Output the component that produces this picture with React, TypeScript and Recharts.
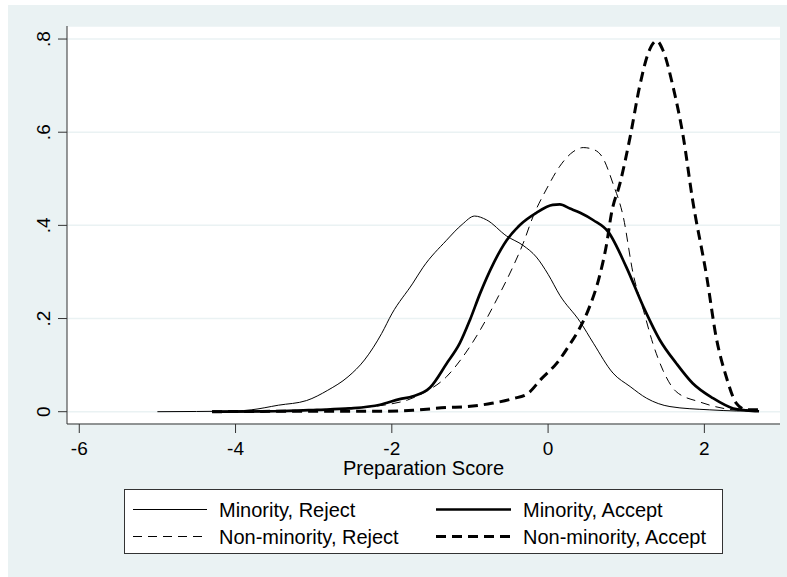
import React from 'react';
import { LineChart, Line, XAxis, YAxis, CartesianGrid, Legend } from 'recharts';

type P = { x: number; y: number };

const minorityReject: P[] = [
  { x: -5.0, y: 0 }, { x: -4.5, y: 0.0005 }, { x: -4.0, y: 0.0015 }, { x: -3.8, y: 0.004 },
  { x: -3.45, y: 0.014 }, { x: -3.09, y: 0.024 }, { x: -2.82, y: 0.046 }, { x: -2.56, y: 0.075 },
  { x: -2.35, y: 0.111 }, { x: -2.13, y: 0.168 }, { x: -2.0, y: 0.21 }, { x: -1.73, y: 0.276 },
  { x: -1.6, y: 0.31 }, { x: -1.3, y: 0.368 }, { x: -1.1, y: 0.402 }, { x: -0.94, y: 0.42 },
  { x: -0.79, y: 0.412 }, { x: -0.53, y: 0.377 }, { x: -0.32, y: 0.357 }, { x: -0.15, y: 0.332 },
  { x: 0.0, y: 0.295 }, { x: 0.15, y: 0.25 }, { x: 0.41, y: 0.193 }, { x: 0.58, y: 0.147 },
  { x: 0.83, y: 0.083 }, { x: 1.05, y: 0.054 }, { x: 1.26, y: 0.029 }, { x: 1.56, y: 0.011 },
  { x: 2.07, y: 0.004 }, { x: 2.41, y: 0.0015 }, { x: 2.6, y: 0.001 },
];

const minorityAccept: P[] = [
  { x: -4.3, y: 0 }, { x: -3.5, y: 0.001 }, { x: -2.96, y: 0.004 }, { x: -2.54, y: 0.007 },
  { x: -2.15, y: 0.015 }, { x: -1.9, y: 0.027 }, { x: -1.73, y: 0.033 }, { x: -1.51, y: 0.052 },
  { x: -1.3, y: 0.103 }, { x: -1.13, y: 0.147 }, { x: -1.0, y: 0.197 }, { x: -0.87, y: 0.254 },
  { x: -0.7, y: 0.318 }, { x: -0.53, y: 0.368 }, { x: -0.36, y: 0.401 }, { x: -0.15, y: 0.427 },
  { x: 0.06, y: 0.444 }, { x: 0.15, y: 0.445 }, { x: 0.28, y: 0.436 }, { x: 0.41, y: 0.427 },
  { x: 0.58, y: 0.411 }, { x: 0.77, y: 0.386 }, { x: 1.0, y: 0.311 }, { x: 1.22, y: 0.225 },
  { x: 1.43, y: 0.154 }, { x: 1.64, y: 0.104 }, { x: 1.85, y: 0.061 }, { x: 2.11, y: 0.029 },
  { x: 2.37, y: 0.007 }, { x: 2.54, y: 0.003 }, { x: 2.7, y: 0.001 },
];

const nonMinorityReject: P[] = [
  { x: -4.3, y: 0 }, { x: -3.5, y: 0.002 }, { x: -3.0, y: 0.004 }, { x: -2.5, y: 0.008 },
  { x: -2.0, y: 0.017 }, { x: -1.8, y: 0.025 }, { x: -1.6, y: 0.04 }, { x: -1.3, y: 0.075 },
  { x: -1.09, y: 0.118 }, { x: -0.87, y: 0.175 }, { x: -0.66, y: 0.24 }, { x: -0.45, y: 0.311 },
  { x: -0.32, y: 0.361 }, { x: -0.19, y: 0.42 }, { x: -0.02, y: 0.478 }, { x: 0.15, y: 0.527 },
  { x: 0.32, y: 0.558 }, { x: 0.45, y: 0.567 }, { x: 0.58, y: 0.563 }, { x: 0.7, y: 0.545 },
  { x: 0.83, y: 0.49 }, { x: 0.96, y: 0.42 }, { x: 1.09, y: 0.295 }, { x: 1.22, y: 0.218 },
  { x: 1.34, y: 0.147 }, { x: 1.47, y: 0.089 }, { x: 1.64, y: 0.043 }, { x: 1.94, y: 0.021 },
  { x: 2.28, y: 0.006 }, { x: 2.54, y: 0.002 }, { x: 2.7, y: 0.001 },
];

const nonMinorityAccept: P[] = [
  { x: -4.3, y: 0 }, { x: -3.0, y: 0.001 }, { x: -2.15, y: 0.001 }, { x: -1.73, y: 0.003 },
  { x: -1.3, y: 0.009 }, { x: -1.04, y: 0.011 }, { x: -0.72, y: 0.018 }, { x: -0.45, y: 0.028 },
  { x: -0.26, y: 0.039 }, { x: -0.09, y: 0.07 }, { x: 0.12, y: 0.106 }, { x: 0.28, y: 0.145 },
  { x: 0.4, y: 0.178 }, { x: 0.53, y: 0.225 }, { x: 0.66, y: 0.292 }, { x: 0.75, y: 0.361 },
  { x: 0.81, y: 0.425 }, { x: 0.92, y: 0.49 }, { x: 1.05, y: 0.59 }, { x: 1.17, y: 0.697 },
  { x: 1.28, y: 0.769 }, { x: 1.39, y: 0.796 }, { x: 1.47, y: 0.776 }, { x: 1.6, y: 0.697 },
  { x: 1.73, y: 0.59 }, { x: 1.85, y: 0.454 }, { x: 2.03, y: 0.29 }, { x: 2.15, y: 0.161 },
  { x: 2.28, y: 0.075 }, { x: 2.41, y: 0.018 }, { x: 2.54, y: 0.004 }, { x: 2.75, y: 0.004 },
];

const seriesNames = ['Minority, Reject', 'Minority, Accept', 'Non-minority, Reject', 'Non-minority, Accept'];
const seriesData = [minorityReject, minorityAccept, nonMinorityReject, nonMinorityAccept];
const xTicks = [-6, -4, -2, 0, 2];
const yTicks = [0, 0.2, 0.4, 0.6, 0.8];
const xTitle = 'Preparation Score';

const FONT = '"Liberation Sans", Arial, Helvetica, sans-serif';
const BG = '#eaf2f3';
const AXIS = '#333';
const lineStyles = [
  { w: 1, dash: undefined as string | undefined },
  { w: 2.7, dash: undefined as string | undefined },
  { w: 1, dash: '9 6' },
  { w: 3, dash: '10 6' },
];

const YTick = (props: any) => {
  const { x, y, payload } = props;
  const v = payload.value as number;
  const label = v === 0 ? '0' : String(v).replace(/^0/, '');
  return (
    <text x={x} y={y} transform={`rotate(-90 ${x} ${y})`} textAnchor="middle" fontSize={19} fontFamily={FONT} fill="#000">
      {label}
    </text>
  );
};

const XTitle = (props: any) => {
  const vb = props.viewBox || {};
  return (
    <text x={vb.x + vb.width / 2} y={vb.y + 50.5} textAnchor="middle" fontSize={20} fontFamily={FONT} fill="#000">
      {xTitle}
    </text>
  );
};

const LegendBox = () => {
  const cols = [{ lx1: 9, lx2: 83, tx: 95 }, { lx1: 312, lx2: 387, tx: 399 }];
  const rows = [{ cy: 20.5, by: 27.5 }, { cy: 47.5, by: 55 }];
  // order: row1: series 0, 1 ; row2: series 2, 3
  return (
    <div style={{ width: 599, height: 65, boxSizing: 'border-box', border: `1px solid ${AXIS}`, background: '#fff', position: 'relative' }}>
      <svg width={597} height={63} style={{ position: 'absolute', left: 0, top: 0 }}>
        {seriesNames.map((name, i) => {
          const c = cols[i % 2];
          const r = rows[Math.floor(i / 2)];
          const s = lineStyles[i];
          return (
            <g key={name}>
              <line x1={c.lx1 - 1} x2={c.lx2 - 1} y1={r.cy - 1} y2={r.cy - 1} stroke="#000" strokeWidth={s.w} strokeDasharray={s.dash} />
              <text x={c.tx - 1} y={r.by - 1} fontSize={20} fontFamily={FONT} fill="#000">{name}</text>
            </g>
          );
        })}
      </svg>
    </div>
  );
};

export default function App() {
  return (
    <div style={{ position: 'fixed', left: 8, top: 5, width: 779, height: 572, background: BG }}>
      <LineChart width={779} height={572} margin={{ top: 21, right: 7, left: 0, bottom: 103 }}>
        <CartesianGrid horizontal vertical={false} stroke={BG} strokeWidth={1.5} fill="#fff" />
        <XAxis
          dataKey="x"
          type="number"
          domain={[-6.157, 2.968]}
          ticks={xTicks}
          allowDataOverflow
          height={50}
          tickSize={9}
          tickMargin={9}
          stroke={AXIS}
          tickLine={{ stroke: AXIS }}
          tick={{ fontSize: 19, fill: '#000', fontFamily: FONT }}
          label={<XTitle />}
        />
        <YAxis
          type="number"
          domain={[-0.0264, 0.828]}
          ticks={yTicks}
          allowDataOverflow
          width={59}
          tickSize={9}
          tickMargin={8}
          stroke={AXIS}
          tickLine={{ stroke: AXIS }}
          tick={<YTick />}
        />
        {seriesData.map((d, i) => (
          <Line
            key={seriesNames[i]}
            data={d}
            dataKey="y"
            name={seriesNames[i]}
            type="monotone"
            stroke="#000"
            strokeWidth={lineStyles[i].w}
            strokeDasharray={lineStyles[i].dash}
            dot={false}
            activeDot={false}
            isAnimationActive={false}
          />
        ))}
        <Legend
          layout="horizontal"
          verticalAlign="middle"
          align="center"
          wrapperStyle={{ left: 116, top: 484, width: 599, height: 65 }}
          content={() => <LegendBox />}
        />
      </LineChart>
    </div>
  );
}
